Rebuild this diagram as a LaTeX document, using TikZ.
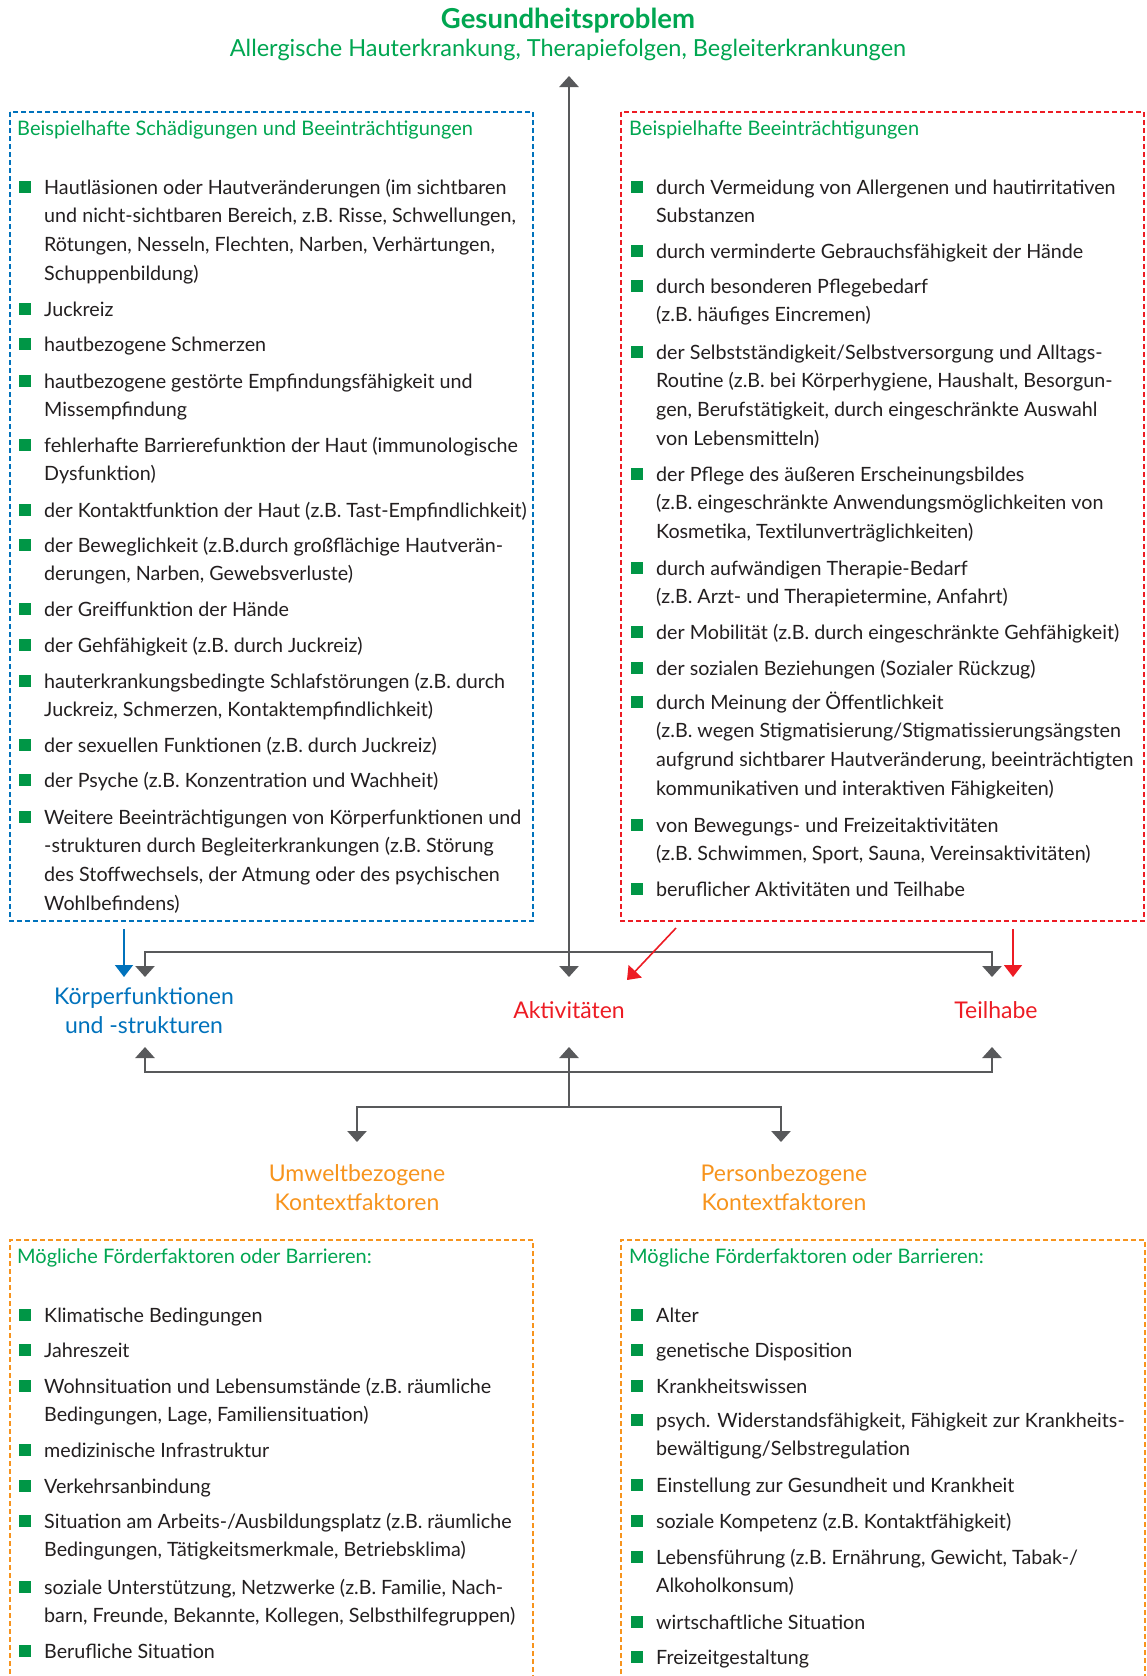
\documentclass[tikz,border=0pt]{standalone}
\usepackage{fontspec}
\setmainfont{Lato}
\usetikzlibrary{arrows.meta}
\definecolor{tgreen}{RGB}{0,166,81}
\definecolor{bgreen}{RGB}{0,150,70}
\definecolor{iblue}{RGB}{0,114,188}
\definecolor{ired}{RGB}{237,28,36}
\definecolor{iorange}{RGB}{247,148,29}
\definecolor{igray}{RGB}{88,89,91}
\definecolor{itext}{RGB}{35,31,32}
\newcommand{\bitem}[4]{%
  \fill[bgreen] (#2-6,#3-13) rectangle (#2+6,#3-1);
  \node[itemtext,anchor=base west] (#1) at (#2+19,#3) {\parbox[t]{590pt}{#4}};}
\begin{document}
\begin{tikzpicture}[x=1pt,y=-1pt,
  itemtext/.style={inner sep=0pt, text=itext, font=\fontsize{19.7}{28.8}\selectfont},
  boxtitle/.style={inner sep=0pt, text=tgreen, anchor=base west, font=\fontsize{20}{24}\selectfont},
  lab/.style={inner sep=0pt, align=center, font=\fontsize{23}{29}\selectfont},
  dashbox/.style={line width=1.6pt, dash pattern=on 5pt off 3pt},
  gline/.style={draw=igray, line width=2.6pt},
  gtip/.style={-{Triangle[length=11pt,width=19pt]}},
  gtips/.style={{Triangle[length=11pt,width=19pt]}-{Triangle[length=11pt,width=19pt]}},
  carrow/.style={line width=1.6pt, -{Triangle[length=12pt,width=18pt]}}
]
\useasboundingbox (0,0) rectangle (1146,1676);
\fill[white] (0,0) rectangle (1146,1676);

% header
\node[inner sep=0pt, text=tgreen, font=\fontsize{27.5}{30}\selectfont\bfseries] (gp) at (568,21) {Gesundheitsproblem};
\node[inner sep=0pt, text=tgreen, font=\fontsize{23.5}{28}\selectfont] (gpsub) at (568,50) {Allergische Hauterkrankung, Therapiefolgen, Begleiterkrankungen};

% boxes
\draw[dashbox, draw=iblue] (10,112) rectangle (533,921);
\draw[dashbox, draw=ired] (621,112) rectangle (1144,921);
\draw[dashbox, draw=iorange] (10,1690) -- (10,1240) -- (533,1240) -- (533,1690);
\draw[dashbox, draw=iorange] (621,1690) -- (621,1240) -- (1145,1240) -- (1145,1690);

% box titles
\node[boxtitle] (t1) at (17,135) {Beispielhafte Schädigungen und Beeinträchtigungen};
\node[boxtitle] (t2) at (629,135) {Beispielhafte Beeinträchtigungen};
\node[boxtitle] (t3) at (17,1263) {Mögliche Förderfaktoren oder Barrieren:};
\node[boxtitle] (t4) at (629,1263) {Mögliche Förderfaktoren oder Barrieren:};

% left top items
\bitem{l1}{25}{194}{Hautläsionen oder Hautveränderungen (im sichtbaren\\und nicht-sichtbaren Bereich, z.B. Risse, Schwellungen,\\Rötungen, Nesseln, Flechten, Narben, Verhärtungen,\\Schuppenbildung)}
\bitem{l2}{25}{316}{Juckreiz}
\bitem{l3}{25}{351}{hautbezogene Schmerzen}
\bitem{l4}{25}{388}{hautbezogene gestörte Empfindungsfähigkeit und\\Missempfindung}
\bitem{l5}{25}{452}{fehlerhafte Barrierefunktion der Haut (immunologische\\Dysfunktion)}
\bitem{l6}{25}{517}{der Kontaktfunktion der Haut (z.B. Tast-Empfindlichkeit)}
\bitem{l7}{25}{552}{der Beweglichkeit (z.B.durch großflächige Hautverän-\\derungen, Narben, Gewebsverluste)}
\bitem{l8}{25}{616}{der Greiffunktion der Hände}
\bitem{l9}{25}{652}{der Gehfähigkeit (z.B. durch Juckreiz)}
\bitem{l10}{25}{688}{hauterkrankungsbedingte Schlafstörungen (z.B. durch\\Juckreiz, Schmerzen, Kontaktempfindlichkeit)}
\bitem{l11}{25}{752}{der sexuellen Funktionen (z.B. durch Juckreiz)}
\bitem{l12}{25}{787}{der Psyche (z.B. Konzentration und Wachheit)}
\bitem{l13}{25}{824}{Weitere Beeinträchtigungen von Körperfunktionen und\\-strukturen durch Begleiterkrankungen (z.B. Störung\\des Stoffwechsels, der Atmung oder des psychischen\\Wohlbefindens)}

% right top items
\bitem{r1}{637}{194}{durch Vermeidung von Allergenen und hautirritativen\\Substanzen}
\bitem{r2}{637}{258}{durch verminderte Gebrauchsfähigkeit der Hände}
\bitem{r3}{637}{293}{durch besonderen Pflegebedarf\\(z.B. häufiges Eincremen)}
\bitem{r4}{637}{359}{der Selbstständigkeit/Selbstversorgung und Alltags-\\Routine (z.B. bei Körperhygiene, Haushalt, Besorgun-\\gen, Berufstätigkeit, durch eingeschränkte Auswahl\\von Lebensmitteln)}
\bitem{r5}{637}{481}{der Pflege des äußeren Erscheinungsbildes\\(z.B. eingeschränkte Anwendungsmöglichkeiten von\\Kosmetika, Textilunverträglichkeiten)}
\bitem{r6}{637}{575}{durch aufwändigen Therapie-Bedarf\\(z.B. Arzt- und Therapietermine, Anfahrt)}
\bitem{r7}{637}{639}{der Mobilität (z.B. durch eingeschränkte Gehfähigkeit)}
\bitem{r8}{637}{675}{der sozialen Beziehungen (Sozialer Rückzug)}
\bitem{r9}{637}{709}{durch Meinung der Öffentlichkeit\\(z.B. wegen Stigmatisierung/Stigmatissierungsängsten\\aufgrund sichtbarer Hautveränderung, beeinträchtigten\\kommunikativen und interaktiven Fähigkeiten)}
\bitem{r10}{637}{832}{von Bewegungs- und Freizeitaktivitäten\\(z.B. Schwimmen, Sport, Sauna, Vereinsaktivitäten)}
\bitem{r11}{637}{896}{beruflicher Aktivitäten und Teilhabe}

% bottom left items
\bitem{u1}{25}{1322}{Klimatische Bedingungen}
\bitem{u2}{25}{1357}{Jahreszeit}
\bitem{u3}{25}{1393}{Wohnsituation und Lebensumstände (z.B. räumliche\\Bedingungen, Lage, Familiensituation)}
\bitem{u4}{25}{1457}{medizinische Infrastruktur}
\bitem{u5}{25}{1493}{Verkehrsanbindung}
\bitem{u6}{25}{1528}{Situation am Arbeits-/Ausbildungsplatz (z.B. räumliche\\Bedingungen, Tätigkeitsmerkmale, Betriebsklima)}
\bitem{u7}{25}{1594}{soziale Unterstützung, Netzwerke (z.B. Familie, Nach-\\barn, Freunde, Bekannte, Kollegen, Selbsthilfegruppen)}
\bitem{u8}{25}{1658}{Berufliche Situation}

% bottom right items
\bitem{p1}{637}{1322}{Alter}
\bitem{p2}{637}{1357}{genetische Disposition}
\bitem{p3}{637}{1393}{Krankheitswissen}
\bitem{p4}{637}{1427}{psych. Widerstandsfähigkeit, Fähigkeit zur Krankheits-\\bewältigung/Selbstregulation}
\bitem{p5}{637}{1492}{Einstellung zur Gesundheit und Krankheit}
\bitem{p6}{637}{1528}{soziale Kompetenz (z.B. Kontaktfähigkeit)}
\bitem{p7}{637}{1564}{Lebensführung (z.B. Ernährung, Gewicht, Tabak-/\\Alkoholkonsum)}
\bitem{p8}{637}{1629}{wirtschaftliche Situation}
\bitem{p9}{637}{1664}{Freizeitgestaltung}

% central labels
\node[lab, text=iblue] (kf) at (144,1011) {Körperfunktionen\\und -strukturen};
\node[lab, text=ired] (ak) at (569,1010) {Aktivitäten};
\node[lab, text=ired] (th) at (996,1010) {Teilhabe};
\node[lab, text=iorange] (uk) at (357,1188) {Umweltbezogene\\Kontextfaktoren};
\node[lab, text=iorange] (pk) at (784,1188) {Personbezogene\\Kontextfaktoren};

% anchor coordinates for connectors
\coordinate (gptip) at (569,76);
\coordinate (aktop) at (569,977);
\coordinate (kftop) at (145,977);
\coordinate (thtop) at (992,977);
\coordinate (kfbot) at (145,1047);
\coordinate (akbot) at (569,1047);
\coordinate (thbot) at (992,1047);
\coordinate (uktop) at (357,1142);
\coordinate (pktop) at (781,1142);
\coordinate (bluein) at (124,977);
\coordinate (redin) at (1013,977);
\coordinate (diagin) at (627,980);

% gray connectors
\draw[gline, gtips] (aktop) -- (gptip);
\draw[gline, gtips] (kftop) -- (145,952) -- (992,952) -- (thtop);
\draw[gline, gtips] (kfbot) -- (145,1072) -- (992,1072) -- (thbot);
\draw[gline, gtip] (569,1107) -- (akbot);
\draw[gline, gtips] (uktop) -- (357,1107) -- (781,1107) -- (pktop);

% coloured connectors from boxes
\draw[carrow, draw=iblue, fill=iblue] (124,929) -- (bluein);
\draw[carrow, draw=ired, fill=ired] (1013,929) -- (redin);
\draw[carrow, draw=ired, fill=ired] (676,928) -- (diagin);
\end{tikzpicture}
\end{document}
